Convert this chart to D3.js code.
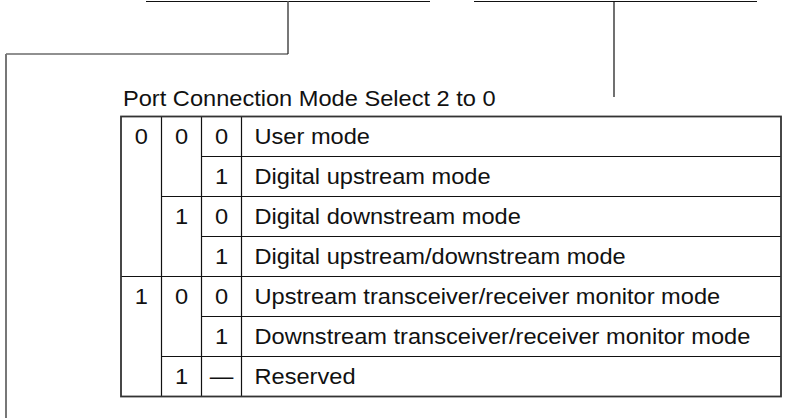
<!DOCTYPE html>
<html>
<head>
<meta charset="utf-8">
<script src="https://cdn.jsdelivr.net/npm/d3@7/dist/d3.min.js"></script>
<style>
  html, body { margin: 0; padding: 0; background: #fff; }
  svg { display: block; }
  text { font-family: "Liberation Sans", Arial, Helvetica, sans-serif; fill: #111; }
</style>
</head>
<body>
<svg id="chart" width="786" height="420"></svg>
<script>
// ---- data ----
const title = "Port Connection Mode Select 2 to 0";
const bit2 = [{ v: "0", span: 4 }, { v: "1", span: 3 }];
const bit1 = [{ v: "0", span: 2 }, { v: "1", span: 2 }, { v: "0", span: 2 }, { v: "1", span: 1 }];
const bit0 = ["0", "1", "0", "1", "0", "1", "\u2014"];
const modes = [
  "User mode",
  "Digital upstream mode",
  "Digital downstream mode",
  "Digital upstream/downstream mode",
  "Upstream transceiver/receiver monitor mode",
  "Downstream transceiver/receiver monitor mode",
  "Reserved"
];

// ---- layout ----
const svg = d3.select("#chart");
const fs = 22.5, sx = 1.05;
const nRows = modes.length;
const y = d3.scaleLinear().domain([0, nRows]).range([116.5, 396.5]);
const colEdges = [121, 161.5, 201.5, 241.5, 781];
const x = d3.scaleLinear().domain([0, 1, 2, 3, 4]).range(colEdges);

// leader lines
const leaders = [
  { pts: [[146, 1.5], [430, 1.5]], c: "#111", w: 1.2 },
  { pts: [[288, 1.5], [288, 54]], c: "#777", w: 2 },
  { pts: [[6, 54], [288, 54]], c: "#222", w: 1.2 },
  { pts: [[6, 54], [6, 418]], c: "#777", w: 2 },
  { pts: [[474, 1.5], [757, 1.5]], c: "#111", w: 1.2 },
  { pts: [[614, 1.5], [614, 97]], c: "#111", w: 1.2 }
];
svg.append("g").selectAll("path").data(leaders).join("path")
  .attr("d", d => d3.line()(d.pts))
  .attr("fill", "none").attr("stroke", d => d.c).attr("stroke-width", d => d.w);

function txt(g, s, px, py, anchor) {
  g.append("text")
    .attr("transform", `translate(${px},${py}) scale(${sx},1)`)
    .attr("text-anchor", anchor || "start")
    .attr("font-size", fs)
    .text(s);
}

// title
txt(svg, title, 123, 106);

const g = svg.append("g");
const lineC = "#111";
const baseOff = 27;

// spans -> start indices
function withStart(arr) {
  let s = 0;
  return arr.map(d => { const o = { v: d.v, start: s, span: d.span }; s += d.span; return o; });
}
const b2 = withStart(bit2), b1 = withStart(bit1);

// horizontal lines for each column: boundaries between groups
function hlines(groups, col) {
  groups.slice(1).forEach(d => {
    g.append("line").attr("x1", x(col)).attr("x2", x(4))
      .attr("y1", y(d.start)).attr("y2", y(d.start))
      .attr("stroke", lineC).attr("stroke-width", 1.2);
  });
}
hlines(b2, 0);
hlines(b1, 1);
hlines(bit0.map((v, i) => ({ v, start: i, span: 1 })), 2);

// vertical lines
[1, 2, 3].forEach(c => {
  g.append("line").attr("x1", x(c)).attr("x2", x(c))
    .attr("y1", y(0)).attr("y2", y(nRows))
    .attr("stroke", lineC).attr("stroke-width", 1.2);
});

// outer border
g.append("rect").attr("x", x(0)).attr("y", y(0))
  .attr("width", x(4) - x(0)).attr("height", y(nRows) - y(0))
  .attr("fill", "none").attr("stroke", "#333").attr("stroke-width", 1.8);

// texts
b2.forEach(d => txt(g, d.v, (x(0) + x(1)) / 2, y(d.start) + baseOff, "middle"));
b1.forEach(d => txt(g, d.v, (x(1) + x(2)) / 2, y(d.start) + baseOff, "middle"));
bit0.forEach((v, i) => txt(g, v, (x(2) + x(3)) / 2, y(i) + baseOff, "middle"));
modes.forEach((m, i) => txt(g, m, x(3) + 13, y(i) + baseOff));
</script>
</body>
</html>
